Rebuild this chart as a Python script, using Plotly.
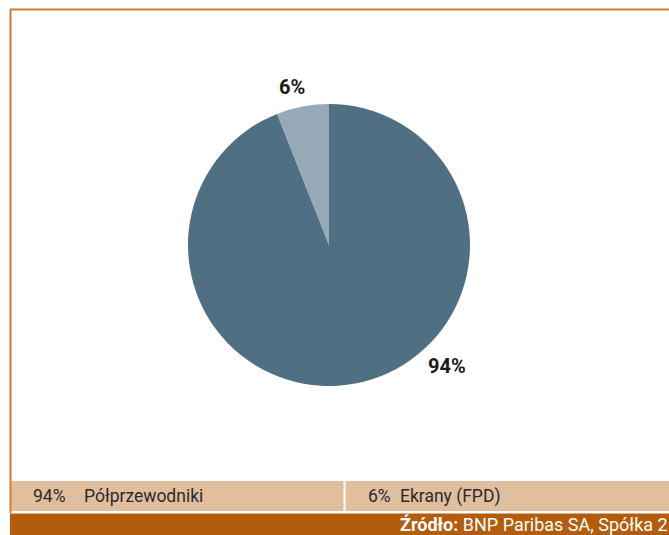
import plotly.graph_objects as go

# data
labels = ["Półprzewodniki", "Ekrany (FPD)"]
values = [94, 6]
colors = ["#4f6f82", "#97a9b6"]
source_bold = "Źródło:"
source_text = "BNP Paribas SA, Spółka 2"

W, H = 669, 535


def px_x(x):
    return x / W


def px_y(y):
    return 1 - y / H


fig = go.Figure(go.Pie(
    labels=labels,
    values=values,
    sort=False,
    direction="clockwise",
    rotation=0,
    marker=dict(colors=colors, line=dict(width=0)),
    textinfo="none",
    hoverinfo="label+percent",
    domain=dict(x=[px_x(188), px_x(470)], y=[px_y(386), px_y(104)]),
    showlegend=False,
))

shapes = [
    # orange frame (left + top)
    dict(type="line", xref="paper", yref="paper",
         x0=px_x(10.5), x1=px_x(10.5), y0=px_y(9.5), y1=px_y(513),
         line=dict(color="#d27b2c", width=2)),
    dict(type="line", xref="paper", yref="paper",
         x0=px_x(10), x1=1, y0=px_y(9.5), y1=px_y(9.5),
         line=dict(color="#d27b2c", width=2)),
    # legend strip
    dict(type="rect", xref="paper", yref="paper",
         x0=px_x(11), x1=1, y0=px_y(511), y1=px_y(481),
         fillcolor="#e0bf9f", line=dict(width=0), layer="below"),
    dict(type="line", xref="paper", yref="paper",
         x0=px_x(344.5), x1=px_x(344.5), y0=px_y(511), y1=px_y(481),
         line=dict(color="white", width=2)),
    # source bar
    dict(type="rect", xref="paper", yref="paper",
         x0=px_x(10), x1=1, y0=0, y1=px_y(513.5),
         fillcolor="#b35c0b", line=dict(width=0), layer="below"),
]

annotations = []

# slice labels next to the pie
label_pos = [(447, 366), (292, 87)]
for (x, y), v in zip(label_pos, values):
    annotations.append(dict(x=px_x(x), y=px_y(y), xref="paper", yref="paper",
                            text=f"<b>{v}%</b>", showarrow=False,
                            xanchor="center", yanchor="middle",
                            font=dict(family="Roboto", size=20, color="#1a1a1a")))

# legend strip
legend_x = [(31, 82), (366, 398)]
for (xv, xl), lab, v in zip(legend_x, labels, values):
    annotations.append(dict(x=px_x(xv), y=px_y(496), xref="paper", yref="paper",
                            text=f"{v}%", showarrow=False, xanchor="left", yanchor="middle",
                            font=dict(family="Roboto", size=17.5, color="#2b2b2b")))
    annotations.append(dict(x=px_x(xl), y=px_y(496), xref="paper", yref="paper",
                            text=lab, showarrow=False, xanchor="left", yanchor="middle",
                            font=dict(family="Roboto", size=17.5, color="#2b2b2b")))

annotations.append(dict(x=px_x(398), y=px_y(524), xref="paper", yref="paper",
                        text=f"<b>{source_bold}</b> {source_text}", showarrow=False,
                        xanchor="left", yanchor="middle",
                        font=dict(family="Roboto", size=18, color="white")))

fig.update_layout(
    width=W, height=H,
    margin=dict(l=0, r=0, t=0, b=0),
    paper_bgcolor="white",
    plot_bgcolor="white",
    shapes=shapes,
    annotations=annotations,
)

fig.write_html("out.html", config={"displayModeBar": False},
               post_script="document.body.style.margin='0';")
